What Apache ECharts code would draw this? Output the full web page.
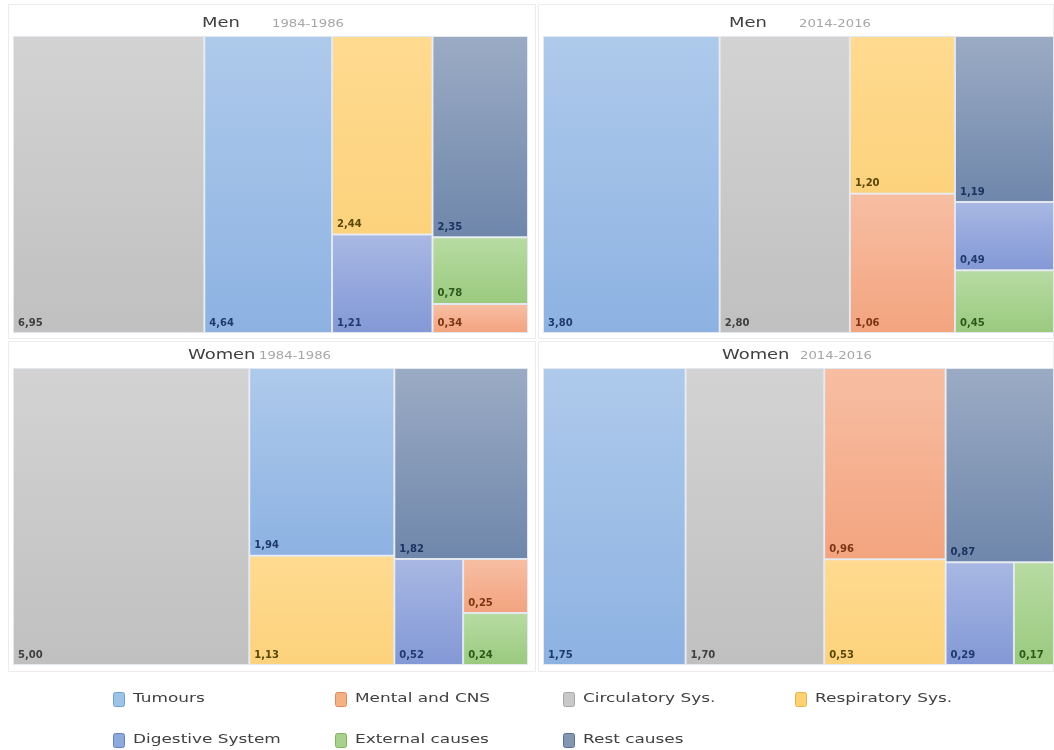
<!DOCTYPE html>
<html>
<head>
<meta charset="utf-8">
<script src="https://cdn.jsdelivr.net/npm/echarts@6/dist/echarts.min.js"></script>
<style>
  html, body { margin: 0; padding: 0; background: #ffffff; }
  #chart { width: 1054px; height: 750px; }
</style>
</head>
<body>
<div id="chart"></div>
<script>
// Causes of death, grouped by category
const categories = ['Tumours', 'Mental and CNS', 'Circulatory Sys.', 'Respiratory Sys.',
                    'Digestive System', 'External causes', 'Rest causes'];

// Values per category (same order as categories)
const men1984   = [4.64, 0.34, 6.95, 2.44, 1.21, 0.78, 2.35];
const men2014   = [3.80, 1.06, 2.80, 1.20, 0.49, 0.45, 1.19];
const women1984 = [1.94, 0.25, 5.00, 1.13, 0.52, 0.24, 1.82];
const women2014 = [1.75, 0.96, 1.70, 0.53, 0.29, 0.17, 0.87];

const panelSex   = ['Men', 'Men', 'Women', 'Women'];
const panelYears = ['1984-1986', '2014-2016', '1984-1986', '2014-2016'];

// How the tiles of each panel are grouped: each array is one block cut in two
const men1984Blocks   = [[[2, 0], [3, 4]], [6, [5, 1]]];
const men2014Blocks   = [[[0, 2], [3, 1]], [6, [4, 5]]];
const women1984Blocks = [[2, [0, 3]], [6, [4, [1, 5]]]];
const women2014Blocks = [[[0, 2], [1, 3]], [6, [4, 5]]];

// Tile colours (top / bottom of the soft vertical gradient) and label colours
const tileTop    = ['#aecaeb', '#f7bea3', '#d3d3d3', '#ffda90', '#a8b8e3', '#b7dba2', '#9babc4'];
const tileBottom = ['#8db2e2', '#f3a47f', '#c0c0c0', '#fcd27c', '#8398d6', '#9bca7f', '#6f87ab'];
const labelColor = ['#1f3a6b', '#7b3515', '#3f3f3f', '#5a470a', '#1f3a6b', '#2c5a1b', '#1c3361'];
const iconFill   = ['#9dc3e6', '#f4b183', '#c9c9c9', '#ffd175', '#8ea9db', '#a9d18e', '#8497b0'];
const iconStroke = ['#6f9fd3', '#e28a5e', '#a5a5a5', '#e6b54a', '#6680c4', '#7fb35e', '#5a7092'];

// ratio: squarify aspect preference; tiny values give plain slice-and-dice cuts
const panels = [
  { values: men1984,   blocks: men1984Blocks,   ratio: 1e-6, box: [13, 36, 515, 297],  titleX: [202, 272], titleY: 23 },
  { values: men2014,   blocks: men2014Blocks,   ratio: 1e-6, box: [543, 36, 511, 297], titleX: [729, 799], titleY: 23 },
  { values: women1984, blocks: women1984Blocks, ratio: 1e-6, box: [13, 368, 515, 297], titleX: [188, 259], titleY: 355 },
  { values: women2014, blocks: women2014Blocks, ratio: 1.2,  box: [543, 368, 511, 297], titleX: [722, 800], titleY: 355 }
];

function buildNode(spec, values) {
  if (Array.isArray(spec)) {
    return { name: '', children: spec.map(s => buildNode(s, values)) };
  }
  const i = spec;
  return {
    name: categories[i],
    value: values[i],
    itemStyle: {
      color: new echarts.graphic.LinearGradient(0, 0, 0, 1, [
        { offset: 0, color: tileTop[i] },
        { offset: 1, color: tileBottom[i] }
      ]),
      borderWidth: 1,
      borderColor: '#e3e7ee'
    },
    label: { color: labelColor[i] }
  };
}

const series = panels.map(p => ({
  type: 'treemap',
  left: p.box[0],
  top: p.box[1],
  width: p.box[2],
  height: p.box[3],
  squareRatio: p.ratio,
  sort: false,
  roam: false,
  nodeClick: false,
  silent: true,
  breadcrumb: { show: false },
  visibleMin: 0,
  itemStyle: { borderWidth: 0, gapWidth: 0, borderColor: '#ffffff' },
  upperLabel: { show: false },
  label: {
    show: true,
    position: 'insideBottomLeft',
    distance: 4,
    padding: 0,
    fontFamily: 'DejaVu Sans',
    fontSize: 10,
    fontWeight: 'bold',
    formatter: params => params.value.toFixed(2).replace('.', ',')
  },
  data: buildNode(p.blocks, p.values).children
}));

const graphics = [];

// light frames around the four panels
const frames = [[8, 4, 527, 334], [538, 4, 515, 334], [8, 341, 527, 330], [538, 341, 515, 330]];
frames.forEach(f => graphics.push({
  type: 'rect', silent: true, z: -1,
  shape: { x: f[0] + 0.5, y: f[1] + 0.5, width: f[2], height: f[3] },
  style: { fill: 'none', stroke: '#ececec', lineWidth: 1 }
}));

// panel headings
panels.forEach((p, k) => {
  graphics.push({
    type: 'text', x: p.titleX[0], y: p.titleY, scaleX: 1.28,
    style: { text: panelSex[k], fontFamily: 'DejaVu Sans', fontSize: 14,
             fill: '#404040', align: 'left', verticalAlign: 'middle' }
  });
  graphics.push({
    type: 'text', x: p.titleX[1], y: p.titleY + 1, scaleX: 1.2,
    style: { text: panelYears[k], fontFamily: 'DejaVu Sans', fontSize: 11,
             fill: '#a6a6a6', align: 'left', verticalAlign: 'middle' }
  });
});

// legend: two rows of swatches
const legendX = [113, 335, 563, 795];
const legendY = [699, 740];
categories.forEach((name, i) => {
  const x = legendX[i % 4];
  const y = legendY[Math.floor(i / 4)];
  graphics.push({
    type: 'rect',
    shape: { x: x + 0.5, y: y - 7 + 0.5, width: 11, height: 14, r: 2 },
    style: { fill: iconFill[i], stroke: iconStroke[i], lineWidth: 1 }
  });
  graphics.push({
    type: 'text', x: x + 20, y: y, scaleX: 1.3,
    style: { text: name, fontFamily: 'DejaVu Sans', fontSize: 13,
             fill: '#404040', align: 'left', verticalAlign: 'middle' }
  });
});

const chart = echarts.init(document.getElementById('chart'), null, { renderer: 'canvas' });
chart.setOption({
  animation: false,
  backgroundColor: '#ffffff',
  series: series,
  graphic: graphics
});
</script>
</body>
</html>
